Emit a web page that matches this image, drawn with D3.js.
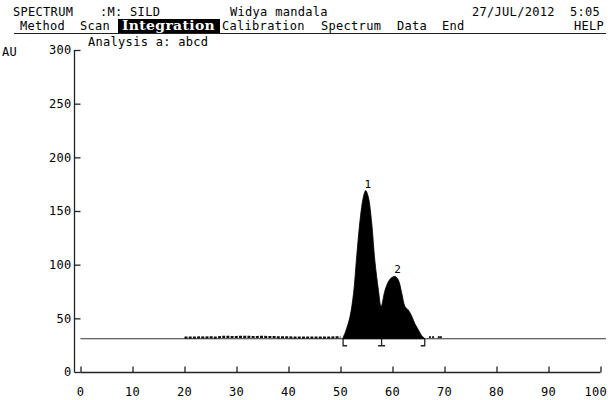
<!DOCTYPE html>
<html><head><meta charset="utf-8">
<script src="https://cdn.jsdelivr.net/npm/d3@7"></script>
<style>
html,body{margin:0;padding:0;background:#fff;}
svg{display:block;}
text{font-family:"DejaVu Sans Mono",monospace;font-size:12px;fill:#000;letter-spacing:0.3px;}
</style></head>
<body>
<script>
// ---- data ----
const xTicks = [0,10,20,30,40,50,60,70,80,90,100];
const yTicks = [0,50,100,150,200,250,300];
const baselineValue = 31;
// signal (x in min, y in AU) for the peak region
const peakX = [50.4,51.0,51.8,52.5,53.1,53.75,54.4,54.85,55.35,56.0,56.6,57.3,57.8,58.55,59.2,59.85,60.5,61.1,61.8,62.4,63.0,63.7,64.3,65.0,65.6,66.25];
const peakY = [31,38,51,73,107,141,163,169,163,139,104,76,61,76,84,88,89,86,73,61,58,52,45,39,34,31];
// low noise trace before and after the peaks
const noiseX = [20,21,22,23,24,25,26,27,28,29,30,31,32,33,34,35,36,37,38,39,40,41,42,43,44,45,46,47,48,49,50];
const noiseY = [32,32,32,32.3,32,32.3,32,32.6,32.8,32.6,32.6,32.8,32.8,32.6,32.6,32.8,32.6,32.6,32.3,32.3,32.3,32,32,32,32,32,32,32,32,32.3,32.3];
const tailX = [67.2,67.8,68.9,69.3];
const tailY = [32,32,32,32];
// peak labels and integration marks
const peakLabels = ["1","2"];
const peakLabelX = [54.9,60.6];
const peakLabelY = [169,89];
const markX = [50.5,57.9,66.2];
const markType = ["[","|","]"];
// header texts
const header1 = ["SPECTRUM",":M: SILD","Widya mandala","27/JUL/2012","5:05"];
const header1X = [13,100,230,472,570];
const menu = ["Method","Scan","Integration","Calibration","Spectrum","Data","End","HELP"];
const menuX = [20,80,122,222,321,397,442,574];
const subtitle = "Analysis a: abcd";
const yUnit = "AU";

// ---- chart ----
const W=608,H=400;
const svg=d3.select("body").append("svg").attr("width",W).attr("height",H);
const x=d3.scaleLinear().domain([0,100]).range([80.5,600.5]);
const y=d3.scaleLinear().domain([0,300]).range([372,50]);

// header
svg.selectAll("text.h1").data(header1).join("text").attr("class","h1")
  .attr("x",(d,i)=>header1X[i]).attr("y",16).text(d=>d);
// menu highlighted box
svg.append("rect").attr("x",118).attr("y",19).attr("width",102).attr("height",14).attr("fill","#000");
svg.selectAll("text.m").data(menu).join("text").attr("class","m")
  .attr("x",(d,i)=>menuX[i]).attr("y",30)
  .each(function(d){
    const t=d3.select(this);
    if(d==="Integration"){
      t.style("fill","#fff").style("font-family","'DejaVu Serif',serif").style("font-weight","bold")
       .style("font-size","12.5px").attr("textLength",93).attr("lengthAdjust","spacingAndGlyphs");
    }
  })
  .text(d=>d);
svg.append("line").attr("x1",14).attr("x2",606).attr("y1",33.5).attr("y2",33.5).attr("stroke","#222").attr("stroke-width",1);
svg.append("text").attr("x",88).attr("y",46).text(subtitle);
svg.append("text").attr("x",2).attr("y",56).text(yUnit);

// axes
const yAxis=d3.axisLeft(y).tickValues(yTicks).tickSize(6).tickPadding(3);
const gy=svg.append("g").attr("transform","translate(80.5,0)").call(yAxis);
const xAxis=d3.axisTop(x).tickValues(xTicks).tickSize(6).tickFormat(()=>"");
const gx=svg.append("g").attr("transform","translate(0,372.5)").call(xAxis);
[gx,gy].forEach(g=>{g.select(".domain").attr("stroke","#222").attr("stroke-width",1.3);
  g.selectAll(".tick line").attr("stroke","#222").attr("stroke-width",1.3);
  g.selectAll("text").style("font-family","DejaVu Sans Mono").style("font-size","12px").attr("fill","#000");});
gy.select(".domain").attr("d","M-6,50V372.5");
gx.select(".domain").attr("d","M80.5,0H600.5");
// x labels under axis
svg.selectAll("text.xl").data(xTicks).join("text").attr("class","xl")
  .attr("x",(d,i)=>i===xTicks.length-1?607:x(d))
  .attr("y",396)
  .attr("text-anchor",(d,i)=>i===xTicks.length-1?"end":"middle").text(d=>d);

// baseline
svg.append("line").attr("x1",x(0)).attr("x2",606).attr("y1",y(baselineValue)).attr("y2",y(baselineValue))
  .attr("stroke","#333").attr("stroke-width",1.2);

// noise
const line=d3.line().x(d=>x(d[0])).y(d=>y(d[1]));
svg.append("path").datum(noiseX.map((v,i)=>[v,noiseY[i]])).attr("d",line)
  .attr("fill","none").attr("stroke","#111").attr("stroke-width",2.2).attr("stroke-dasharray","3,1.2");
svg.selectAll("rect.tail").data(tailX).join("rect").attr("class","tail")
  .attr("x",d=>x(d)-1).attr("y",(d,i)=>y(tailY[i])-1.5).attr("width",2).attr("height",2).attr("fill","#222");

// peaks area
const area=d3.area().x(d=>x(d[0])).y0(y(baselineValue)).y1(d=>y(d[1])).curve(d3.curveCatmullRom);
svg.append("path").datum(peakX.map((v,i)=>[v,peakY[i]])).attr("d",area).attr("fill","#000").attr("stroke","#000").attr("stroke-width",0.8);

// peak labels
svg.selectAll("text.pl").data(peakLabels).join("text").attr("class","pl")
  .attr("x",(d,i)=>x(peakLabelX[i])+2).attr("y",(d,i)=>y(peakLabelY[i])-3).attr("text-anchor","middle")
  .style("font-size","11px").text(d=>d);

// integration marks
const by=y(baselineValue);
svg.selectAll("path.mk").data(markX).join("path").attr("class","mk")
  .attr("d",(d,i)=>{const px=x(d);const t=markType[i];
    if(t==="[") return `M${px},${by}V${by+7}H${px+4}`;
    if(t==="]") return `M${px},${by}V${by+7}H${px-4}`;
    return `M${px},${by}V${by+7}M${px-3.5},${by+7}H${px+3.5}`;})
  .attr("fill","none").attr("stroke","#222").attr("stroke-width",1.3);
</script>
</body></html>
